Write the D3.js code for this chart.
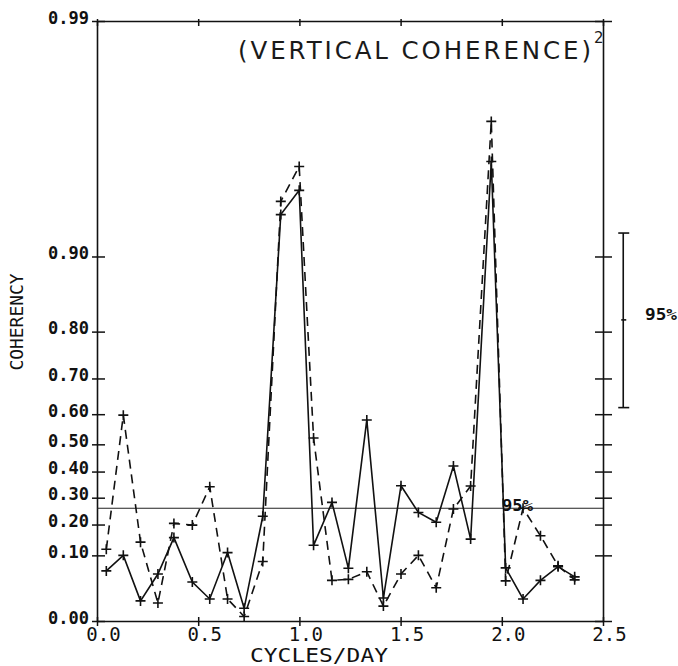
<!DOCTYPE html>
<html>
<head>
<meta charset="utf-8">
<script src="https://cdn.jsdelivr.net/npm/d3@7"></script>
<style>
  body { margin: 0; background: #fff; }
  svg { display: block; }
  .mono { font-family: "DejaVu Sans Mono", "Liberation Mono", monospace; fill: #111; }
</style>
</head>
<body>
<div id="chart"></div>
<script>
// Frequencies (cycles/day)
const freqs = [0.046, 0.130, 0.215, 0.301, 0.380, 0.471, 0.557, 0.645, 0.727, 0.819,
  0.908, 0.999, 1.070, 1.161, 1.242, 1.333, 1.415, 1.502, 1.588, 1.676,
  1.761, 1.846, 1.948, 2.019, 2.105, 2.191, 2.278, 2.360];

// Squared coherence, solid series
const solidCoh = [0.060, 0.100, 0.010, 0.053, 0.155, 0.037, 0.012, 0.108, 0.004, 0.230,
  0.933, 0.947, 0.130, 0.282, 0.066, 0.582, 0.013, 0.346, 0.244, 0.208,
  0.421, 0.150, 0.960, 0.067, 0.012, 0.040, 0.070, 0.047];

// Squared coherence, dashed series
const dashedCoh = [0.118, 0.597, 0.140, 0.008, 0.204, 0.198, 0.342, 0.012, 0.0005, 0.083,
  0.941, 0.958, 0.522, 0.040, 0.042, 0.058, 0.0055, 0.053, 0.100, 0.027,
  0.257, 0.345, 0.973, 0.039, 0.260, 0.161, 0.072, 0.041];

const yTickValues = [0.00, 0.10, 0.20, 0.30, 0.40, 0.50, 0.60, 0.70, 0.80, 0.90, 0.99];
const xTickValues = [0.0, 0.5, 1.0, 1.5, 2.0, 2.5];

const sigLevel = 0.26;                 // 95% significance line
const confBar = [0.62, 0.82, 0.92];    // 95% confidence interval (low, mid, high)

// coherence is plotted on an arctanh(sqrt(c)) axis
const toZ = c => Math.atanh(Math.sqrt(c));

const width = 678, height = 666;
const frame = {left: 97, right: 603, top: 21, bottom: 621};

const svg = d3.select('#chart').append('svg')
    .attr('width', width)
    .attr('height', height);

svg.append('rect').attr('width', width).attr('height', height).attr('fill', '#fff');

const x = d3.scaleLinear().domain([0, 2.5]).range([frame.left, frame.right]);
const y = d3.scaleLinear().domain([0, toZ(0.99)]).range([frame.bottom, frame.top]);

const fmtY = z => d3.format('.2f')(Math.tanh(z) ** 2);

// Axes on all four sides
const yAxisL = svg.append('g')
    .attr('transform', `translate(${frame.left},0)`)
    .call(d3.axisLeft(y).tickValues(yTickValues.map(toZ)).tickFormat(fmtY).tickSizeOuter(0));
yAxisL.selectAll('.tick line').attr('x1', -5).attr('x2', 8);
yAxisL.selectAll('.tick text')
    .attr('class', 'mono')
    .attr('x', -8).attr('dy', 2)
    .style('font-size', '17px').style('font-weight', 'bold');

const yAxisR = svg.append('g')
    .attr('transform', `translate(${frame.right},0)`)
    .call(d3.axisRight(y).tickValues(yTickValues.map(toZ)).tickFormat('').tickSizeOuter(0));
yAxisR.selectAll('.tick line').attr('x1', -8).attr('x2', 9);

const xAxisB = svg.append('g')
    .attr('transform', `translate(0,${frame.bottom})`)
    .call(d3.axisBottom(x).tickValues(xTickValues).tickFormat(d3.format('.1f')).tickSizeOuter(0));
xAxisB.selectAll('.tick line').attr('y1', -4).attr('y2', 5);
xAxisB.selectAll('.tick text')
    .attr('class', 'mono')
    .attr('x', 6).attr('y', 20).attr('dy', 0)
    .style('font-size', '19px');

const xAxisT = svg.append('g')
    .attr('transform', `translate(0,${frame.top})`)
    .call(d3.axisTop(x).tickValues(xTickValues).tickFormat('').tickSizeOuter(0));
xAxisT.selectAll('.tick line').attr('y1', -2).attr('y2', 5);

svg.selectAll('.domain').attr('stroke', '#111').attr('stroke-width', 1.6);
svg.selectAll('.tick line').attr('stroke', '#111').attr('stroke-width', 1.5);

// 95% significance level
svg.append('line')
    .attr('x1', frame.left).attr('x2', frame.right)
    .attr('y1', y(toZ(sigLevel))).attr('y2', y(toZ(sigLevel)))
    .attr('stroke', '#222').attr('stroke-width', 1.2);

svg.append('text')
    .attr('class', 'mono')
    .attr('x', 502).attr('y', y(toZ(sigLevel)) + 3)
    .attr('textLength', 31).attr('lengthAdjust', 'spacingAndGlyphs')
    .style('font-size', '15px').style('font-weight', 'bold')
    .text('95%');

// Data series
const line = d3.line()
    .x(d => x(d.f))
    .y(d => y(toZ(d.c)));

const series = [
  {name: 'dashed', values: dashedCoh, dash: '9,6'},
  {name: 'solid', values: solidCoh, dash: null}
];

const cross = 'M-5,0H5M0,-5V5';

series.forEach(s => {
  const pts = freqs.map((f, i) => ({f: f, c: s.values[i]}));
  svg.append('path')
      .datum(pts)
      .attr('fill', 'none')
      .attr('stroke', '#111')
      .attr('stroke-width', 1.6)
      .attr('stroke-dasharray', s.dash)
      .attr('d', line);

  svg.selectAll(`.mark-${s.name}`)
      .data(pts)
    .join('path')
      .attr('class', `mark-${s.name}`)
      .attr('transform', d => `translate(${x(d.f)},${y(toZ(d.c))})`)
      .attr('d', cross)
      .attr('stroke', '#111')
      .attr('stroke-width', 1.6);
});

// 95% confidence bar on the right
const barX = x(2.6);
const bar = svg.append('g').attr('stroke', '#111').attr('stroke-width', 1.6);
bar.append('line')
    .attr('x1', barX).attr('x2', barX)
    .attr('y1', y(toZ(confBar[0]))).attr('y2', y(toZ(confBar[2])));
[confBar[0], confBar[2]].forEach(v => {
  bar.append('line')
      .attr('x1', barX - 5).attr('x2', barX + 6)
      .attr('y1', y(toZ(v))).attr('y2', y(toZ(v)));
});
bar.append('line')
    .attr('x1', barX - 2).attr('x2', barX + 3)
    .attr('y1', y(toZ(confBar[1]))).attr('y2', y(toZ(confBar[1])));

svg.append('text')
    .attr('class', 'mono')
    .attr('x', 645).attr('y', y(toZ(confBar[1])) + 0)
    .attr('textLength', 32).attr('lengthAdjust', 'spacingAndGlyphs')
    .style('font-size', '15px').style('font-weight', 'bold')
    .text('95%');

// Title and axis labels
svg.append('text')
    .attr('x', 238).attr('y', 59)
    .attr('textLength', 353).attr('lengthAdjust', 'spacing')
    .style('font-family', '"DejaVu Sans", sans-serif')
    .style('font-size', '24.5px').style('fill', '#1a1a1a')
    .text('(VERTICAL COHERENCE)');

svg.append('text')
    .attr('x', 594).attr('y', 43)
    .style('font-family', '"DejaVu Sans", sans-serif')
    .style('font-size', '15px').style('fill', '#1a1a1a')
    .text('2');

svg.append('text')
    .attr('class', 'mono')
    .attr('x', 250).attr('y', 662)
    .attr('textLength', 138).attr('lengthAdjust', 'spacingAndGlyphs')
    .style('font-size', '19px')
    .text('CYCLES/DAY');

svg.append('text')
    .attr('class', 'mono')
    .attr('transform', 'translate(23,322) rotate(-90)')
    .attr('text-anchor', 'middle')
    .attr('textLength', 97).attr('lengthAdjust', 'spacingAndGlyphs')
    .style('font-size', '17px')
    .text('COHERENCY');
</script>
</body>
</html>
